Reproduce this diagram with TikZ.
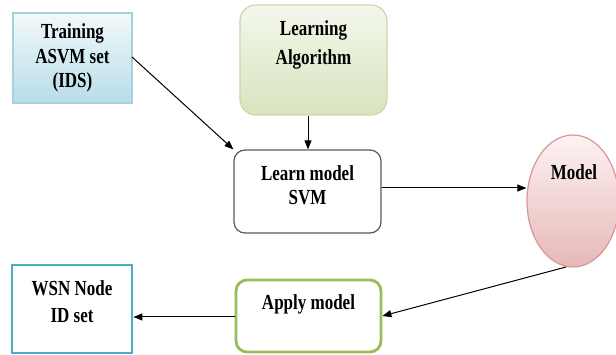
\documentclass[tikz,border=0pt]{standalone}
\usepackage{fontspec}
\setmainfont{Liberation Serif}
\usetikzlibrary{arrows.meta,shapes.geometric}
\definecolor{trainTop}{HTML}{F2F9FB}
\definecolor{trainBot}{HTML}{B7DDE8}
\definecolor{trainLine}{HTML}{A5D0DC}
\definecolor{algTop}{HTML}{F4F7EC}
\definecolor{algBot}{HTML}{D7E4BD}
\definecolor{algLine}{HTML}{C9D9A8}
\definecolor{modTop}{HTML}{FDF2F2}
\definecolor{modBot}{HTML}{E6B9B8}
\definecolor{modLine}{HTML}{D99694}
\definecolor{applyLine}{HTML}{9BBB59}
\definecolor{wsnLine}{HTML}{4BACC6}
\definecolor{greyLine}{HTML}{595959}
\newcommand{\tline}[1]{\scalebox{1.03}[1.3]{#1}}
\tikzset{
  lbl/.style={font=\fontsize{16.5}{25}\selectfont\bfseries, align=center, inner sep=0pt},
  box/.style={draw, minimum width=#1, inner sep=0pt},
  conn/.style={-{Triangle[length=9pt,width=7pt]}, line width=1pt, black},
}
\begin{document}
\begin{tikzpicture}[x=1pt,y=-1pt]
\useasboundingbox (0,0) rectangle (616,355);
% boxes
\node[box=119pt, minimum height=90pt, draw=trainLine, line width=1.2pt,
      top color=trainTop, bottom color=trainBot] (train) at (72.5,58) {};
\node[box=147pt, minimum height=110pt, draw=algLine, line width=1.2pt, rounded corners=16pt,
      top color=algTop, bottom color=algBot] (alg) at (313.5,60) {};
\node[box=147pt, minimum height=83pt, draw=greyLine, line width=1.2pt, rounded corners=11pt,
      fill=white] (learn) at (307.5,191.5) {};
\node[ellipse, draw=modLine, line width=1.2pt, minimum width=92pt, minimum height=132pt,
      inner sep=0pt, top color=modTop, bottom color=modBot] (model) at (573,201) {};
\node[box=145pt, minimum height=72pt, draw=applyLine, line width=2.8pt, rounded corners=11pt,
      fill=white] (apply) at (308.5,316) {};
\node[box=120pt, minimum height=88pt, draw=wsnLine, line width=2.8pt, fill=white] (wsn) at (72,309) {};
% texts
\node[lbl] (t1) at (72.5,33) {\tline{Training}};
\node[lbl] (t2) at (72.5,57) {\tline{ASVM set}};
\node[lbl] (t3) at (72.5,82) {\tline{(IDS)}};
\node[lbl] (a1) at (313.5,30) {\tline{Learning}};
\node[lbl] (a2) at (313.5,59) {\tline{Algorithm}};
\node[lbl] (l1) at (307.5,173) {\tline{Learn model}};
\node[lbl] (l2) at (307.5,198) {\tline{SVM}};
\node[lbl] (m1) at (574,172) {\tline{Model}};
\node[lbl] (p1) at (308.5,304) {\tline{Apply model}};
\node[lbl] (w1) at (72,288) {\tline{WSN Node}};
\node[lbl] (w2) at (72,316) {\tline{ID set}};
% connectors
\coordinate (trainEnd) at (132,57);
\draw[conn] (trainEnd) -- (learn.north west);
\draw[conn] (alg.south -| 308,0) -- (learn.north -| 308,0);
\draw[conn] (learn.east |- 0,188) -- (model.west |- 0,188);
\coordinate (modelOut) at (566,267);
\draw[conn] (modelOut) -- (apply.east |- 0,316);
\draw[conn] (apply.west |- 0,317) -- (wsn.east |- 0,317);
\end{tikzpicture}
\end{document}
